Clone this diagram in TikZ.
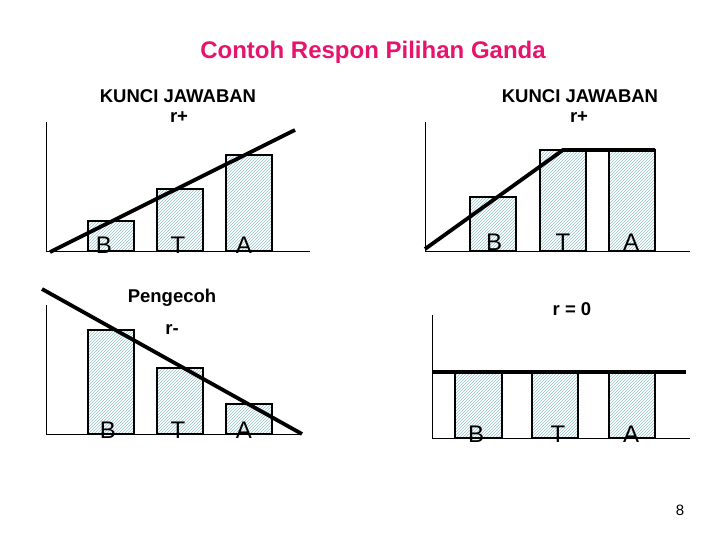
\documentclass[tikz,border=0pt]{standalone}
\usepackage{fontspec}
\setmainfont{Liberation Sans}
\usetikzlibrary{patterns}
\definecolor{ttl}{RGB}{230,20,110}
\definecolor{hatch}{RGB}{150,195,200}
\begin{document}
\begin{tikzpicture}[x=1pt,y=-1pt,
  bar/.style={draw=black,line width=1.2pt,pattern=north east lines,pattern color=hatch},
  ax/.style={line width=1pt},
  trend/.style={line width=3.8pt},
  lbl/.style={font=\fontsize{24}{24}\selectfont},
  hd/.style={font=\bfseries\fontsize{18.5}{20}\selectfont}]
\useasboundingbox[fill=white] (0,0) rectangle (728,546);
\node[font=\bfseries\fontsize{24}{26}\selectfont,text=ttl] (title) at (373,52) {Contoh Respon Pilihan Ganda};
% panel 1
\draw[ax] (46,122) -- (46,251) -- (310,251);
\draw[bar] (88,251) rectangle (134,221);
\draw[bar] (157,251) rectangle (203,189);
\draw[bar] (226,251) rectangle (272,155);
\coordinate (p1a) at (50,252); \coordinate (p1b) at (295,130);
\draw[trend] (p1a) -- (p1b);
\node[lbl] (b1) at (104,245) {B}; \node[lbl] (t1) at (178,245) {T}; \node[lbl] (a1) at (244,245) {A};
\node[hd] (k1) at (178,96) {KUNCI JAWABAN}; \node[hd] (r1) at (179,117) {r+};
% panel 2
\draw[ax] (425,122) -- (425,251) -- (690,251);
\draw[bar] (470,251) rectangle (516,197);
\draw[bar] (540,251) rectangle (586,150);
\draw[bar] (609,251) rectangle (655,150);
\coordinate (p2a) at (425,249); \coordinate (p2b) at (563,150); \coordinate (p2c) at (655,150);
\draw[trend] (p2a) -- (p2b) -- (p2c);
\node[lbl] (b2) at (494,242) {B}; \node[lbl] (t2) at (563,242) {T}; \node[lbl] (a2) at (631,242) {A};
\node[hd] (k2) at (580,96) {KUNCI JAWABAN}; \node[hd] (r2) at (579,117) {r+};
% panel 3
\draw[ax] (46,305) -- (46,434) -- (300,434);
\draw[bar] (88,434) rectangle (134,330);
\draw[bar] (157,434) rectangle (203,368);
\draw[bar] (226,434) rectangle (272,404);
\coordinate (p3a) at (42,289); \coordinate (p3b) at (302,434);
\draw[trend] (p3a) -- (p3b);
\node[lbl] (b3) at (108,430) {B}; \node[lbl] (t3) at (178,430) {T}; \node[lbl] (a3) at (244,430) {A};
\node[hd] (k3) at (172,298) {Pengecoh}; \node[hd] (r3) at (172,330) {r-};
% panel 4
\draw[ax] (432,315) -- (432,438) -- (690,438);
\draw[bar] (455,438) rectangle (502,372);
\draw[bar] (532,438) rectangle (578,372);
\draw[bar] (609,438) rectangle (655,372);
\coordinate (p4a) at (432,372); \coordinate (p4b) at (686,372);
\draw[trend] (p4a) -- (p4b);
\node[lbl] (b4) at (476,434) {B}; \node[lbl] (t4) at (558,434) {T}; \node[lbl] (a4) at (631,434) {A};
\node[hd] (k4) at (572,309) {r = 0};
\node[font=\fontsize{15}{16}\selectfont] (pg) at (680,510) {8};
\end{tikzpicture}
\end{document}
